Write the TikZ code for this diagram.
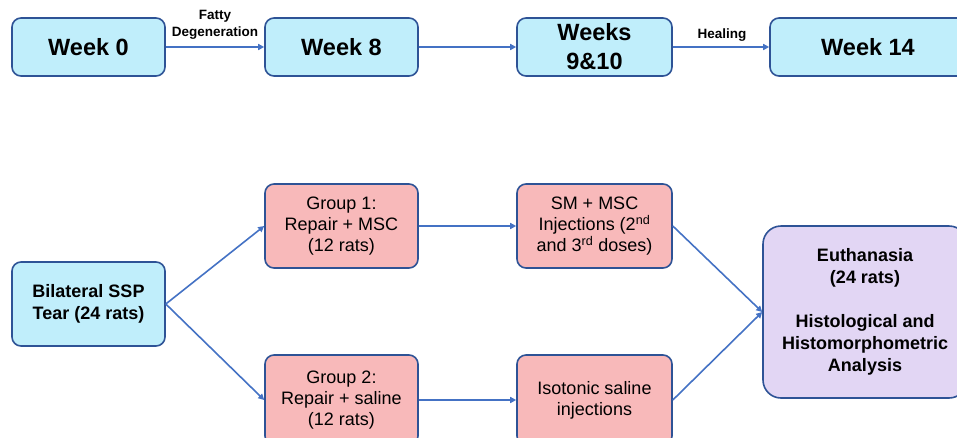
\documentclass[tikz,border=0pt]{standalone}
\usepackage{fontspec}
\setmainfont{Liberation Sans}
\usetikzlibrary{arrows.meta}
\definecolor{bfill}{HTML}{C0EEFB}
\definecolor{pfill}{HTML}{F8B9BA}
\definecolor{vfill}{HTML}{E2D6F4}
\definecolor{bord}{HTML}{2E5396}
\definecolor{arr}{HTML}{4472C4}
\tikzset{
  box/.style={draw=bord, line width=1.6pt, rounded corners=9pt, align=center, inner sep=0pt},
  weekbox/.style={box, fill=bfill, minimum width=153pt, minimum height=58pt, font=\fontsize{23.5}{29}\selectfont\bfseries},
  bluebox/.style={box, fill=bfill, minimum width=153pt, minimum height=84pt, font=\fontsize{18}{22}\selectfont\bfseries},
  pinkbox/.style={box, fill=pfill, minimum width=153pt, minimum height=84pt, font=\fontsize{18}{21}\selectfont},
  purplebox/.style={box, fill=vfill, minimum width=204pt, minimum height=172pt, rounded corners=18pt, font=\fontsize{18}{22}\selectfont\bfseries},
  conn/.style={draw=arr, line width=1.6pt, -{Triangle[length=6pt,width=6pt]}},
  lbl/.style={align=center, inner sep=0pt, font=\fontsize{13.5}{16.5}\selectfont\bfseries}
}
\begin{document}
\begin{tikzpicture}[x=1pt,y=-1pt]
\useasboundingbox (0,0) rectangle (957,437);
\node[weekbox] (w0) at (88.5,47) {Week 0};
\node[weekbox] (w8) at (341.5,47) {Week 8};
\node[weekbox, minimum width=155pt] (w910) at (594.5,47) {Weeks\\9\&10};
\node[weekbox, minimum width=196pt] (w14) at (868,47) {Week 14};
\draw[conn] (w0) -- (w8);
\draw[conn] (w8) -- (w910);
\draw[conn] (w910) -- (w14);
\node[lbl] (fd) at (215,25) {Fatty\\Degeneration};
\node[lbl] (he) at (722,35) {Healing};

\node[bluebox] (bil) at (88.5,304) {Bilateral SSP\\Tear (24 rats)};
\node[pinkbox] (g1) at (341.5,226) {Group 1:\\Repair + MSC\\(12 rats)};
\node[pinkbox, minimum height=90pt] (g2) at (341.5,400) {Group 2:\\Repair + saline\\(12 rats)};
\node[pinkbox, minimum width=155pt] (sm) at (594.5,226) {SM + MSC\\Injections (2\textsuperscript{nd}\\and 3\textsuperscript{rd} doses)};
\node[pinkbox, minimum width=155pt, minimum height=90pt] (iso) at (594.5,400) {Isotonic saline\\injections};
\node[purplebox] (eu) at (865,312) {Euthanasia\\(24 rats)\\[22pt]Histological and\\Histomorphometric\\Analysis};
\draw[conn] (bil.east) -- (g1.west);
\draw[conn] (bil.east) -- (g2.west);
\draw[conn] (g1) -- (sm);
\draw[conn] (g2) -- (iso);
\draw[conn] (sm.east) -- (eu.west);
\draw[conn] (iso.east) -- (eu.west);
\end{tikzpicture}
\end{document}
